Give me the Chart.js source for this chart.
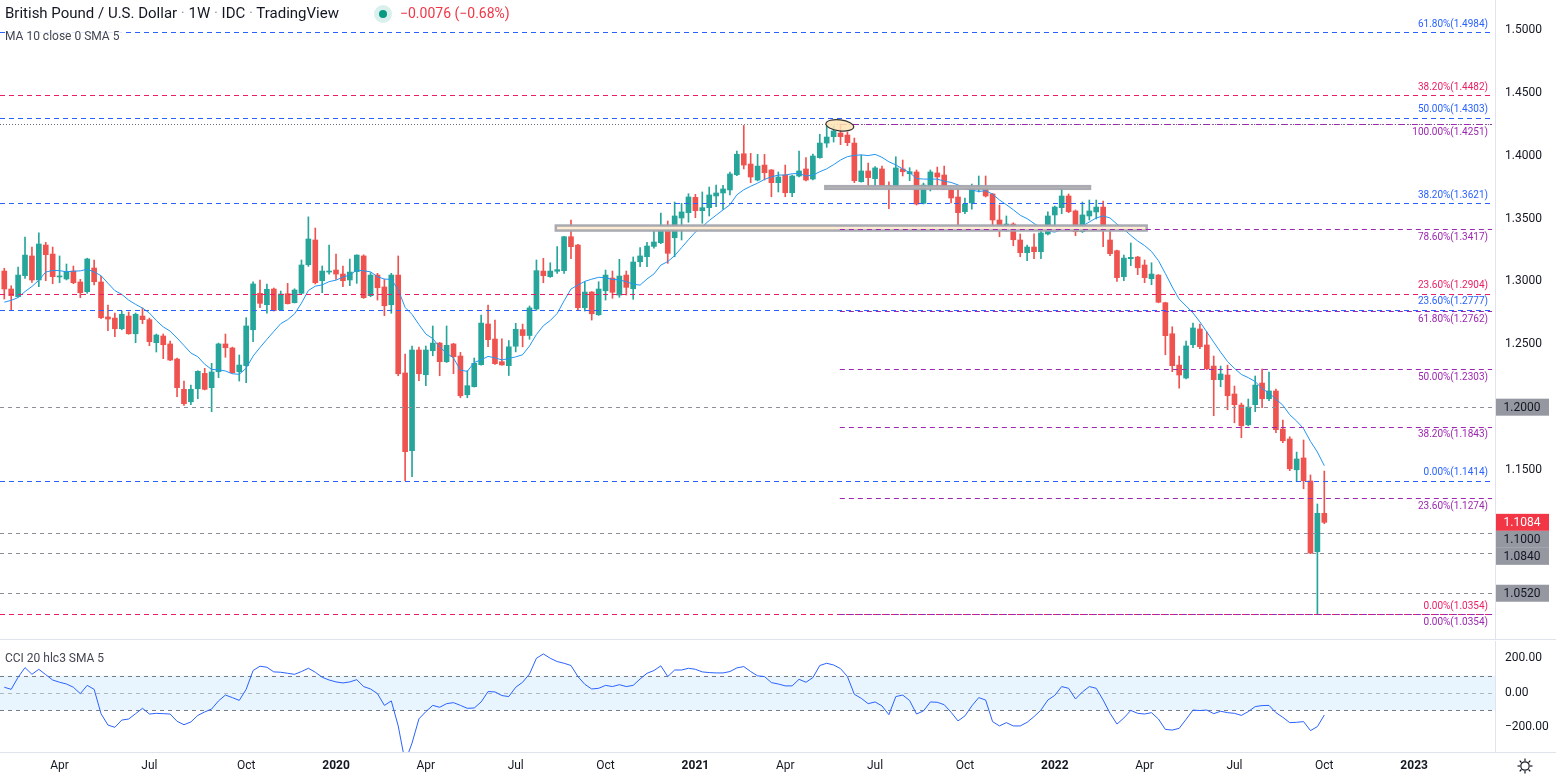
<!DOCTYPE html>
<html>
<head>
<meta charset="utf-8">
<script src="https://cdn.jsdelivr.net/npm/chart.js@4.4.1/dist/chart.umd.min.js"></script>
<style>
  html, body { margin: 0; padding: 0; background: #fff; overflow: hidden; }
  body { width: 1556px; height: 776px; position: relative; font-family: Roboto, "Liberation Sans", sans-serif; color: #131722; }
  canvas { position: absolute; left: 0; }
  #priceChart { top: 0; }
  #cciChart { top: 640px; }
  #paneSep { position: absolute; left: 0; top: 639px; width: 1556px; height: 1px; background: #e0e3eb; }
  .legend { position: absolute; left: 5px; white-space: nowrap; background: rgba(255,255,255,0.85); padding-right: 3px; }
  #title { top: 4px; font-size: 15px; }
  #title .dot { color: #9598a1; }
  #status { position: absolute; left: 374px; top: 5px; width: 18px; height: 18px; border-radius: 50%; background: rgba(8,153,129,0.15); }
  #status::after { content: ""; position: absolute; left: 5px; top: 5px; width: 8px; height: 8px; border-radius: 50%; background: #089981; }
  #change { position: absolute; left: 400px; top: 5px; font-size: 14px; color: #f23645; }
  #maLegend { top: 29px; font-size: 12px; color: #434651; }
  #cciLegend { top: 651px; font-size: 12px; color: #434651; }
</style>
</head>
<body>
<canvas id="priceChart" width="1556" height="639"></canvas>
<div id="paneSep"></div>
<canvas id="cciChart" width="1556" height="136"></canvas>
<div class="legend" id="title">British Pound / U.S. Dollar <span class="dot">·</span> 1W <span class="dot">·</span> IDC <span class="dot">·</span> TradingView</div>
<div id="status"></div>
<div id="change">−0.0076 (−0.68%)</div>
<div class="legend" id="maLegend">MA 10 close 0 SMA 5</div>
<div class="legend" id="cciLegend">CCI 20 hlc3 SMA 5</div>
<script>
// weekly GBP/USD candles, first bar = week of 4 Feb 2019
const opens = [
  1.3083,1.2940,1.2879,1.3046,1.3203,1.3012,1.3290,1.3218,1.3036,1.3020,
  1.3083,1.2996,1.2919,1.3107,1.2996,1.2718,1.2709,1.2624,1.2725,1.2584,
  1.2725,1.2696,1.2513,1.2566,1.2503,1.2383,1.2142,1.2043,1.2147,1.2269,
  1.2155,1.2282,1.2503,1.2471,1.2282,1.2330,1.2616,1.2906,1.2815,1.2940,
  1.2775,1.2903,1.2831,1.2906,1.3133,1.3330,1.3006,1.3075,1.3091,1.3059,
  1.3012,1.3078,1.3203,1.2887,1.3051,1.2956,1.2815,1.3051,1.2272,1.1654,
  1.2455,1.2258,1.2449,1.2510,1.2362,1.2503,1.2407,1.2099,1.2163,1.2338,
  1.2662,1.2542,1.2362,1.2330,1.2485,1.2617,1.2570,1.2781,1.3083,1.3038,
  1.3081,1.3086,1.3356,1.3290,1.2791,1.2916,1.2735,1.2926,1.3027,1.2892,
  1.3051,1.2942,1.3157,1.3197,1.3279,1.3308,1.3441,1.3348,1.3505,1.3547,
  1.3669,1.3563,1.3587,1.3680,1.3704,1.3728,1.3849,1.4016,1.3934,1.3807,
  1.3926,1.3887,1.3786,1.3847,1.3706,1.3839,1.3895,1.3815,1.3985,1.4101,
  1.4152,1.4181,1.4165,1.4101,1.3794,1.3879,1.3818,1.3895,1.3759,1.3746,
  1.3895,1.3857,1.3871,1.3622,1.3751,1.3863,1.3847,1.3728,1.3672,1.3555,
  1.3624,1.3751,1.3751,1.3696,1.3489,1.3409,1.3457,1.3330,1.3229,1.3274,
  1.3237,1.3378,1.3529,1.3587,1.3680,1.3561,1.3396,1.3521,1.3553,1.3592,
  1.3330,1.3245,1.3038,1.3181,1.3194,1.3131,1.3022,1.3051,1.2831,1.2584,
  1.2335,1.2232,1.2497,1.2622,1.2495,1.2327,1.2219,1.2256,1.2105,1.2017,
  1.1860,1.2020,1.2192,1.2067,1.2129,1.1826,1.1747,1.1502,1.1596,1.1413,
  1.0850,1.1156
];
const highs = [
  1.3105,1.2966,1.3115,1.3354,1.3274,1.3386,1.3311,1.3274,1.3203,1.3139,
  1.3123,1.3017,1.3185,1.3171,1.3043,1.2813,1.2749,1.2765,1.2757,1.2749,
  1.2789,1.2709,1.2582,1.2582,1.2526,1.2390,1.2208,1.2176,1.2290,1.2309,
  1.2349,1.2510,1.2582,1.2478,1.2415,1.2712,1.2998,1.3012,1.2980,1.2948,
  1.2924,1.2985,1.2942,1.3171,1.3514,1.3425,1.3123,1.3290,1.3218,1.3123,
  1.3179,1.3212,1.3212,1.3070,1.3065,1.3017,1.3065,1.3203,1.2423,1.2487,
  1.2479,1.2487,1.2646,1.2515,1.2646,1.2508,1.2436,1.2290,1.2391,1.2733,
  1.2813,1.2693,1.2543,1.2530,1.2667,1.2661,1.2805,1.3171,1.3184,1.3149,
  1.3277,1.3360,1.3489,1.3295,1.2998,1.2920,1.2998,1.3091,1.3083,1.3176,
  1.3083,1.3195,1.3269,1.3311,1.3401,1.3545,1.3481,1.3632,1.3622,1.3698,
  1.3693,1.3712,1.3751,1.3767,1.3765,1.3871,1.4038,1.4241,1.4019,1.4011,
  1.4011,1.3890,1.3871,1.3926,1.3847,1.4038,1.3985,1.4014,1.4171,1.4237,
  1.4237,1.4249,1.4189,1.4141,1.4006,1.3942,1.3913,1.3918,1.3793,1.3992,
  1.3966,1.3905,1.3887,1.3783,1.3887,1.3910,1.3918,1.3759,1.3736,1.3664,
  1.3775,1.3839,1.3839,1.3700,1.3608,1.3521,1.3467,1.3378,1.3290,1.3378,
  1.3441,1.3553,1.3600,1.3751,1.3696,1.3569,1.3632,1.3648,1.3648,1.3640,
  1.3441,1.3250,1.3210,1.3306,1.3200,1.3171,1.3149,1.3055,1.2835,1.2640,
  1.2407,1.2526,1.2669,1.2662,1.2598,1.2407,1.2327,1.2335,1.2168,1.2033,
  1.2065,1.2248,1.2304,1.2280,1.2144,1.1898,1.1765,1.1643,1.1739,1.1461,
  1.1230,1.1492
];
const lows = [
  1.2860,1.2775,1.2875,1.3025,1.2993,1.2958,1.3006,1.2982,1.2990,1.3012,
  1.2982,1.2871,1.2906,1.2972,1.2705,1.2608,1.2561,1.2616,1.2580,1.2513,
  1.2664,1.2489,1.2439,1.2386,1.2370,1.2083,1.2015,1.2020,1.2067,1.2137,
  1.1964,1.2235,1.2397,1.2269,1.2208,1.2195,1.2521,1.2791,1.2747,1.2765,
  1.2772,1.2821,1.2829,1.2900,1.3120,1.2980,1.2911,1.3059,1.3017,1.2958,
  1.2966,1.2985,1.2865,1.2879,1.2852,1.2728,1.2747,1.2250,1.1415,1.1447,
  1.2211,1.2171,1.2409,1.2250,1.2355,1.2266,1.2075,1.2075,1.2160,1.2335,
  1.2481,1.2340,1.2335,1.2252,1.2440,1.2480,1.2540,1.2770,1.2990,1.3033,
  1.3065,1.3065,1.3181,1.2773,1.2765,1.2693,1.2730,1.2852,1.2866,1.2874,
  1.2892,1.2858,1.3118,1.3118,1.3264,1.3300,1.3144,1.3197,1.3330,1.3471,
  1.3507,1.3463,1.3521,1.3595,1.3574,1.3688,1.3841,1.3895,1.3786,1.3800,
  1.3807,1.3674,1.3712,1.3674,1.3674,1.3831,1.3800,1.3807,1.3980,1.4067,
  1.4109,1.4088,1.4080,1.3786,1.3790,1.3738,1.3746,1.3760,1.3579,1.3740,
  1.3839,1.3802,1.3608,1.3616,1.3720,1.3736,1.3730,1.3624,1.3417,1.3539,
  1.3576,1.3712,1.3672,1.3428,1.3356,1.3401,1.3284,1.3197,1.3165,1.3181,
  1.3181,1.3370,1.3441,1.3539,1.3547,1.3364,1.3390,1.3489,1.3497,1.3277,
  1.3205,1.3000,1.3006,1.3126,1.3054,1.2990,1.2974,1.2830,1.2417,1.2282,
  1.2152,1.2224,1.2473,1.2465,1.2298,1.1932,1.2163,1.1980,1.1876,1.1757,
  1.1852,1.1964,1.1996,1.2052,1.1797,1.1717,1.1495,1.1407,1.1351,1.0835,
  1.0354,1.1073
];
const closes = [
  1.2940,1.2887,1.3051,1.3210,1.3012,1.3298,1.3213,1.3038,1.3042,1.3078,
  1.2990,1.2911,1.3179,1.2998,1.2712,1.2701,1.2624,1.2739,1.2584,1.2739,
  1.2696,1.2521,1.2574,1.2497,1.2375,1.2155,1.2028,1.2142,1.2285,1.2142,
  1.2280,1.2503,1.2473,1.2274,1.2335,1.2646,1.2980,1.2826,1.2938,1.2768,
  1.2900,1.2823,1.2932,1.3131,1.3338,1.2990,1.3083,1.3083,1.3059,1.3006,
  1.3075,1.3210,1.2871,1.3051,1.2950,1.2807,1.3051,1.2266,1.1646,1.2455,
  1.2266,1.2455,1.2510,1.2362,1.2492,1.2402,1.2091,1.2171,1.2349,1.2669,
  1.2537,1.2346,1.2336,1.2480,1.2620,1.2570,1.2790,1.3086,1.3046,1.3083,
  1.3094,1.3356,1.3277,1.2791,1.2916,1.2743,1.2940,1.3051,1.2914,1.3043,
  1.2953,1.3155,1.3203,1.3282,1.3314,1.3444,1.3224,1.3521,1.3553,1.3672,
  1.3563,1.3587,1.3688,1.3704,1.3736,1.3855,1.4012,1.3926,1.3831,1.3918,
  1.3865,1.3786,1.3831,1.3706,1.3839,1.3879,1.3807,1.3998,1.4101,1.4149,
  1.4197,1.4152,1.4104,1.3802,1.3879,1.3826,1.3903,1.3762,1.3746,1.3903,
  1.3873,1.3873,1.3616,1.3767,1.3871,1.3831,1.3736,1.3664,1.3547,1.3616,
  1.3751,1.3759,1.3680,1.3489,1.3409,1.3457,1.3332,1.3229,1.3274,1.3237,
  1.3386,1.3521,1.3592,1.3680,1.3555,1.3396,1.3529,1.3561,1.3592,1.3404,
  1.3221,1.3030,1.3186,1.3192,1.3109,1.3030,1.3059,1.2835,1.2569,1.2330,
  1.2256,1.2487,1.2630,1.2481,1.2306,1.2219,1.2264,1.2091,1.2020,1.1852,
  1.2001,1.2176,1.2067,1.2129,1.1821,1.1733,1.1510,1.1588,1.1415,1.0840,
  1.1156,1.1084
];
// MA(10) values for the first bars (earlier closes are off screen)
const maLead = [1.2835,1.2850,1.2872,1.2920,1.2960,1.3010,1.3075,1.3088,1.3086];

// CCI 20
const cciValues = [
  33,21,91,147,108,137,106,75,62,52,
  33,-4,44,21,-120,-186,-199,-157,-151,-120,
  -89,-122,-118,-120,-122,-164,-184,-168,-130,-110,
  -93,-46,-12,-27,-43,21,130,155,149,122,
  120,114,108,124,143,120,91,75,64,58,
  64,77,37,23,-4,-72,-46,-191,-400,-290,
  -150,-108,-72,-83,-62,-56,-72,-89,-87,-52,
  8,6,-15,-21,33,62,110,201,226,201,
  182,172,159,95,50,23,27,44,37,48,
  37,44,81,114,130,157,95,133,133,143,
  137,122,118,116,116,124,145,153,124,99,
  95,60,52,41,41,79,62,89,159,172,
  162,141,95,-8,-31,-62,-52,-75,-126,-21,
  -12,-44,-122,-104,-52,-54,-68,-112,-162,-133,
  -75,-27,-41,-166,-191,-172,-191,-191,-170,-137,
  -99,-41,-14,37,27,-35,6,37,27,-41,
  -118,-180,-145,-101,-118,-122,-114,-151,-211,-215,
  -205,-153,-99,-102,-99,-120,-106,-114,-118,-130,
  -108,-79,-73,-72,-114,-141,-172,-170,-166,-218,
  -195,-128
];

// fibonacci / horizontal levels
const fibBluePrices = [1.4984, 1.4303, 1.3621, 1.2777, 1.1414];
const fibBluePcts   = ['61.80%', '50.00%', '38.20%', '23.60%', '0.00%'];
const fibPinkPrices = [1.4482, 1.2904, 1.0354];
const fibPinkPcts   = ['38.20%', '23.60%', '0.00%'];
const fibPurplePrices = [1.4251, 1.3417, 1.2762, 1.2303, 1.1843, 1.1274, 1.0354];
const fibPurplePcts   = ['100.00%', '78.60%', '61.80%', '50.00%', '38.20%', '23.60%', '0.00%'];
const grayLevels = [1.2000, 1.1000, 1.0840, 1.0520];
const lastPrice = 1.1084;

// zones: [fromBar, toBar, top, bottom]
const zoneUpper = [118.8, 157.1, 1.3758, 1.3737];
const zoneLower = [79.8, 165.3, 1.3445, 1.3405];
const topMarker = [120.9, 1.4242]; // ellipse round the 2021 high

const priceTicks = [1.15, 1.25, 1.30, 1.35, 1.40, 1.45, 1.50];
const cciTicks = [-200, 0, 200];
const timeTickBars = [8, 21, 35, 48, 61, 74, 87, 100, 113, 126, 139, 152, 165, 178, 191, 204];
const timeTickLabels = ['Apr','Jul','Oct','2020','Apr','Jul','Oct','2021','Apr','Jul','Oct','2022','Apr','Jul','Oct','2023'];

const UP = '#26a69a', DOWN = '#ef5350';
const BLUE = '#2962ff', PINK = '#e91e63', PURPLE = '#9c27b0', GRAY = '#8c8f99';
const X_MIN = -0.62, X_MAX = 215.7;
const FONT = 'Roboto, "Liberation Sans", sans-serif';

const bars = closes.map((_, i) => i);
const candleColors = bars.map(i => closes[i] >= opens[i] ? UP : DOWN);
const ma = bars.map(i => i < 9 ? maLead[i] : closes.slice(i - 9, i + 1).reduce((a, b) => a + b, 0) / 10);

// no label padding around the plot area
function noPad(s) {
  s.paddingTop = 0; s.paddingBottom = 0; s.paddingLeft = 0; s.paddingRight = 0;
}

// draws the fib lines, zones, ellipse and price tags
const overlayPlugin = {
  id: 'overlays',
  afterDatasetsDraw(chart) {
    const { ctx, chartArea: a, scales: { x, y } } = chart;
    const purpleFrom = x.getPixelForValue(topMarker[0]);
    const lineEnd = a.right - 3;
    ctx.save();
    ctx.beginPath();
    ctx.rect(a.left, a.top, a.width, a.height);
    ctx.clip();

    function hline(price, color, dash, fromX, width) {
      const py = Math.round(y.getPixelForValue(price)) + 0.5;
      ctx.beginPath();
      ctx.setLineDash(dash);
      ctx.strokeStyle = color;
      ctx.lineWidth = width || 1;
      ctx.moveTo(fromX, py);
      ctx.lineTo(lineEnd, py);
      ctx.stroke();
    }
    function label(price, text, color, above) {
      const py = y.getPixelForValue(price);
      ctx.setLineDash([]);
      ctx.font = '10px ' + FONT;
      ctx.fillStyle = color;
      ctx.textAlign = 'right';
      ctx.textBaseline = above ? 'bottom' : 'top';
      ctx.fillText(text, a.right - 7, above ? py - 3 : py + 3);
    }

    // zones
    [zoneLower, zoneUpper].forEach(z => {
      const x0 = x.getPixelForValue(z[0]), x1 = x.getPixelForValue(z[1]);
      const y0 = y.getPixelForValue(z[2]), y1 = y.getPixelForValue(z[3]);
      ctx.setLineDash([]);
      ctx.fillStyle = 'rgb(255,236,210)';
      ctx.fillRect(x0, y0, x1 - x0, y1 - y0);
      ctx.strokeStyle = 'rgba(160,163,172,0.9)';
      ctx.lineWidth = 2.5;
      ctx.strokeRect(x0, y0, x1 - x0, y1 - y0);
    });

    grayLevels.forEach(p => hline(p, GRAY, [4, 4], a.left));
    hline(fibPurplePrices[0], '#6a6d78', [1, 2], a.left);

    fibBluePrices.forEach((p, i) => {
      hline(p, BLUE, [5, 4], a.left);
      label(p, fibBluePcts[i] + '(' + p.toFixed(4) + ')', BLUE, true);
    });
    fibPinkPrices.forEach((p, i) => {
      hline(p, PINK, [5, 4], a.left);
      label(p, fibPinkPcts[i] + '(' + p.toFixed(4) + ')', PINK, true);
    });
    fibPurplePrices.forEach((p, i) => {
      hline(p, PURPLE, i === 0 ? [6, 3, 1, 3] : [5, 4], purpleFrom);
      label(p, fibPurplePcts[i] + '(' + p.toFixed(4) + ')', PURPLE, false);
    });

    // ellipse marker
    const cx = x.getPixelForValue(topMarker[0]), cy = y.getPixelForValue(topMarker[1]);
    ctx.setLineDash([]);
    ctx.beginPath();
    ctx.ellipse(cx, cy, 14, 5.5, 0.12, 0, Math.PI * 2);
    ctx.fillStyle = 'rgba(255,228,180,0.85)';
    ctx.fill();
    ctx.strokeStyle = '#333';
    ctx.lineWidth = 1.2;
    ctx.stroke();
    ctx.restore();
  },
  afterDraw(chart) {
    const { ctx, scales: { y } } = chart;
    const tags = [
      { v: 1.2000, bg: '#9598a1', fg: '#131722' },
      { v: lastPrice, bg: '#f23645', fg: '#ffffff' },
      { v: 1.1000, bg: '#9598a1', fg: '#131722' },
      { v: 1.0840, bg: '#9598a1', fg: '#131722' },
      { v: 1.0520, bg: '#9598a1', fg: '#131722' }
    ];
    const h = 17;
    let prevBottom = -Infinity;
    ctx.save();
    ctx.font = '12px ' + FONT;
    ctx.textAlign = 'center';
    ctx.textBaseline = 'middle';
    tags.forEach(t => {
      let top = y.getPixelForValue(t.v) - h / 2;
      if (top < prevBottom) top = prevBottom;
      prevBottom = top + h;
      ctx.fillStyle = t.bg;
      ctx.fillRect(1496, top, 53, h);
      ctx.fillStyle = t.fg;
      ctx.fillText(t.v.toFixed(4), 1522, top + h / 2 + 0.5);
    });
    ctx.restore();
  }
};

new Chart(document.getElementById('priceChart'), {
  type: 'bar',
  data: {
    datasets: [
      { label: 'MA', type: 'line', data: bars.map(i => ({ x: i, y: ma[i] })), borderColor: '#2196f3', borderWidth: 1, pointRadius: 0, order: 0 },
      { label: 'bodies', data: bars.map(i => ({ x: i, y: [opens[i], closes[i]] })), backgroundColor: candleColors, barThickness: 5, minBarLength: 1, grouped: false, order: 1 },
      { label: 'wicks', data: bars.map(i => ({ x: i, y: [lows[i], highs[i]] })), backgroundColor: candleColors, barThickness: 1, grouped: false, order: 2 }
    ]
  },
  options: {
    responsive: false,
    animation: false,
    layout: { padding: 0 },
    plugins: { legend: { display: false }, tooltip: { enabled: false } },
    scales: {
      x: { type: 'linear', min: X_MIN, max: X_MAX, offset: false, display: false },
      y: {
        position: 'right', min: 1.0156, max: 1.5239,
        grid: { display: false, drawTicks: false },
        border: { display: true, color: '#e0e3eb' },
        ticks: { color: '#131722', padding: 10, font: { size: 12, family: FONT }, callback: v => v.toFixed(4) },
        afterBuildTicks: s => { s.ticks = priceTicks.map(v => ({ value: v })); },
        afterFit: s => { s.width = 61; noPad(s); }
      }
    }
  },
  plugins: [overlayPlugin]
});

// CCI pane: band, dashed levels, bottom rule and gear icon
const cciPlugin = {
  id: 'cciBand',
  beforeDatasetsDraw(chart) {
    const { ctx, chartArea: a, scales: { y } } = chart;
    const yTop = y.getPixelForValue(100), yBot = y.getPixelForValue(-100);
    ctx.save();
    ctx.fillStyle = 'rgba(33,150,243,0.1)';
    ctx.fillRect(a.left, yTop, a.width, yBot - yTop);
    [[100, '#787b86'], [0, 'rgba(120,123,134,0.5)'], [-100, '#787b86']].forEach(([v, c]) => {
      const py = Math.round(y.getPixelForValue(v)) + 0.5;
      ctx.beginPath();
      ctx.setLineDash([4, 4]);
      ctx.strokeStyle = c;
      ctx.lineWidth = 1;
      ctx.moveTo(a.left, py);
      ctx.lineTo(a.right, py);
      ctx.stroke();
    });
    ctx.restore();
  },
  afterDraw(chart) {
    const { ctx, chartArea: a } = chart;
    ctx.save();
    ctx.strokeStyle = '#e0e3eb';
    ctx.lineWidth = 1;
    ctx.beginPath();
    ctx.moveTo(0, a.bottom + 0.5);
    ctx.lineTo(chart.width, a.bottom + 0.5);
    ctx.stroke();
    // settings gear
    const gx = 1525, gy = a.bottom + 14;
    ctx.strokeStyle = '#131722';
    ctx.lineWidth = 1.2;
    ctx.beginPath();
    ctx.arc(gx, gy, 4.2, 0, Math.PI * 2);
    ctx.stroke();
    for (let k = 0; k < 8; k++) {
      const ang = k * Math.PI / 4;
      ctx.beginPath();
      ctx.moveTo(gx + Math.cos(ang) * 5, gy + Math.sin(ang) * 5);
      ctx.lineTo(gx + Math.cos(ang) * 7.5, gy + Math.sin(ang) * 7.5);
      ctx.stroke();
    }
    ctx.restore();
  }
};

new Chart(document.getElementById('cciChart'), {
  type: 'line',
  data: {
    datasets: [
      { label: 'CCI', data: bars.map(i => ({ x: i, y: cciValues[i] })), borderColor: '#2962ff', borderWidth: 1, pointRadius: 0 }
    ]
  },
  options: {
    responsive: false,
    animation: false,
    layout: { padding: { top: 1 } },
    plugins: { legend: { display: false }, tooltip: { enabled: false } },
    scales: {
      x: {
        type: 'linear', min: X_MIN, max: X_MAX, offset: false,
        grid: { display: false, drawTicks: false },
        border: { display: false },
        ticks: {
          color: '#131722', padding: 7, autoSkip: false, maxRotation: 0,
          font: ctx => ({ size: 12, family: FONT, weight: /^\d{4}$/.test(timeTickLabels[ctx.index]) ? 'bold' : 'normal' }),
          callback: (v, i) => timeTickLabels[i]
        },
        afterBuildTicks: s => { s.ticks = timeTickBars.map(v => ({ value: v })); },
        afterFit: s => { s.height = 24; noPad(s); }
      },
      y: {
        position: 'right', min: -342, max: 301,
        grid: { display: false, drawTicks: false },
        border: { display: true, color: '#e0e3eb' },
        ticks: { color: '#131722', padding: 10, font: { size: 12, family: FONT }, callback: v => (v < 0 ? '−' : '') + Math.abs(v).toFixed(2) },
        afterBuildTicks: s => { s.ticks = cciTicks.map(v => ({ value: v })); },
        afterFit: s => { s.width = 61; noPad(s); }
      }
    }
  },
  plugins: [cciPlugin]
});
</script>
</body>
</html>
